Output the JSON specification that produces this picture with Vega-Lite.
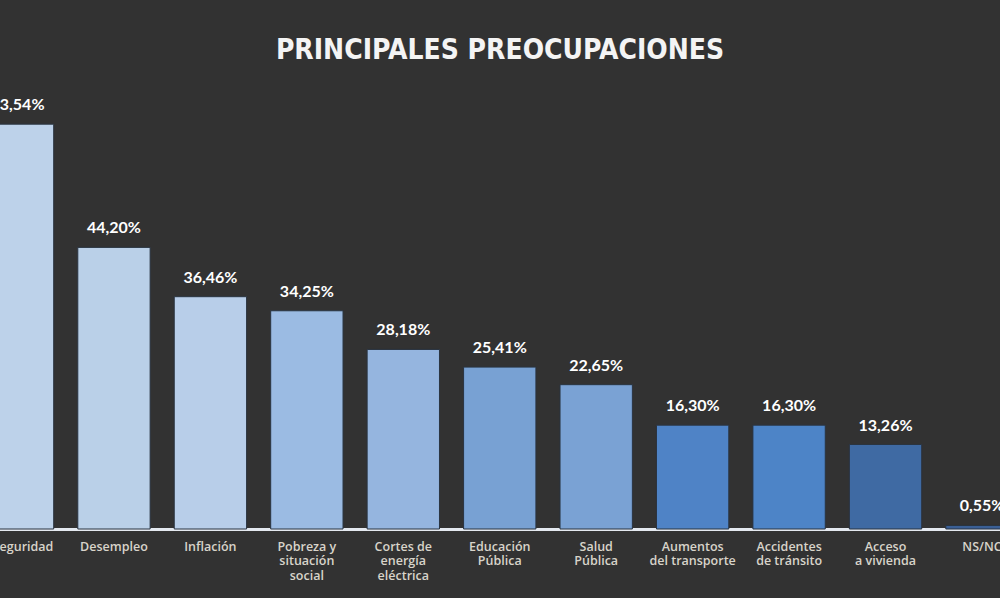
{
  "$schema": "https://vega.github.io/schema/vega-lite/v6.json",
  "width": 1000,
  "height": 446,
  "autosize": "none",
  "padding": {"top": 83, "bottom": 69, "left": 0, "right": 0},
  "background": "#323232",
  "title": {
    "text": "PRINCIPALES PREOCUPACIONES",
    "font": "DejaVu Sans Condensed",
    "fontWeight": "bold",
    "fontSize": 28,
    "color": "#f4f4f4",
    "anchor": "middle",
    "frame": "group",
    "offset": 18
  },
  "data": {
    "values": [
      {"tema": "Inseguridad", "pct": 63.54},
      {"tema": "Desempleo", "pct": 44.20},
      {"tema": "Inflación", "pct": 36.46},
      {"tema": "Pobreza y\nsituación\nsocial", "pct": 34.25},
      {"tema": "Cortes de\nenergía\neléctrica", "pct": 28.18},
      {"tema": "Educación\nPública", "pct": 25.41},
      {"tema": "Salud\nPública", "pct": 22.65},
      {"tema": "Aumentos\ndel transporte", "pct": 16.30},
      {"tema": "Accidentes\nde tránsito", "pct": 16.30},
      {"tema": "Acceso\na vivienda", "pct": 13.26},
      {"tema": "NS/NC", "pct": 0.55}
    ]
  },
  "transform": [
    {"calculate": "replace(format(datum.pct, '.2f'), '.', ',') + '%'", "as": "etiqueta"}
  ],
  "encoding": {
    "x": {
      "field": "tema",
      "type": "nominal",
      "sort": null,
      "scale": {"range": [-30.7, 1030.2], "paddingInner": 0.25, "paddingOuter": 0.125},
      "axis": {
        "title": null,
        "labelAngle": 0,
        "labelExpr": "split(datum.label, '\\n')",
        "labelFont": "Open Sans",
        "labelFontSize": 12.5,
        "labelFontWeight": 600,
        "labelColor": "#d8d4ca",
        "labelLineHeight": 14.5,
        "labelPadding": 11,
        "labelBaseline": "top",
        "labelLimit": 200,
        "ticks": false,
        "domainColor": "#e4e9f0",
        "domainWidth": 3,
        "grid": false
      }
    },
    "y": {
      "field": "pct",
      "type": "quantitative",
      "scale": {"domain": [0, 70]},
      "axis": null
    }
  },
  "layer": [
    {
      "mark": {"type": "bar", "stroke": "#2a3440", "strokeWidth": 1},
      "encoding": {
        "color": {
          "field": "tema",
          "type": "nominal",
          "sort": null,
          "legend": null,
          "scale": {
            "range": ["#bdd2ea", "#bad0e8", "#b8cee9", "#9bbbe3", "#95b5df", "#78a1d3", "#7aa2d4", "#4f83c6", "#4d84c7", "#3f6aa3", "#3a5f95"]
          }
        }
      }
    },
    {
      "mark": {"type": "text", "baseline": "bottom", "dy": -11, "font": "Lato", "fontWeight": "bold", "fontSize": 16, "color": "#ffffff"},
      "encoding": {"text": {"field": "etiqueta"}}
    }
  ],
  "config": {"view": {"stroke": null}}
}
